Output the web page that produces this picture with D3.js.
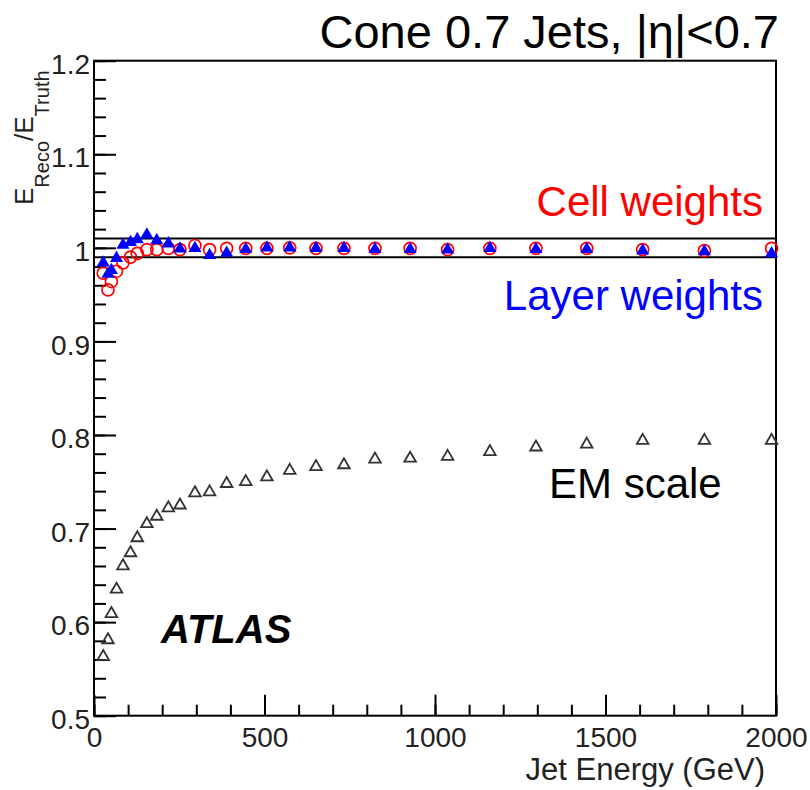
<!DOCTYPE html>
<html>
<head>
<meta charset="utf-8">
<script src="https://cdn.jsdelivr.net/npm/d3@7"></script>
<style>
  body { margin: 0; background: #fff; }
  svg { display: block; font-family: "Liberation Sans", Arial, Helvetica, sans-serif; }
</style>
</head>
<body>
<svg id="chart" width="810" height="790"></svg>
<script>
// jet energy bins (GeV), shared by all three series
const energy = [27, 41, 51, 66, 85, 107, 127, 155, 184, 218, 252, 296, 339, 389,
  445, 507, 574, 651, 733, 824, 927, 1037, 1161, 1296, 1445, 1609, 1790, 1987];

const cellWeights = [0.973, 0.955, 0.964, 0.975, 0.984, 0.990, 0.994, 0.998, 0.998, 0.9995,
  0.998, 1.0025, 0.998, 0.9995, 0.9995, 0.9995, 1.000, 0.9995, 0.9995, 0.9995,
  0.9995, 0.998, 0.9995, 0.9995, 0.9995, 0.998, 0.997, 0.9995];

const layerWeights = [0.984, 0.972, 0.976, 0.989, 1.003, 1.006, 1.009, 1.014, 1.008, 1.0045,
  0.999, 0.9995, 0.992, 0.9945, 0.9985, 1.000, 1.000, 0.9995, 0.9995, 0.9985,
  0.9985, 0.998, 0.9995, 0.9985, 0.9985, 0.997, 0.996, 0.994];

const emScale = [0.563, 0.581, 0.609, 0.635, 0.660, 0.674, 0.690, 0.705, 0.713, 0.722,
  0.725, 0.738, 0.739, 0.748, 0.750, 0.755, 0.762, 0.766, 0.768, 0.774,
  0.775, 0.777, 0.782, 0.787, 0.790, 0.794, 0.794, 0.794];

const xTicks = [0, 500, 1000, 1500, 2000];
const xTickLabels = ["0", "500", "1000", "1500", "2000"];
const yTicks = [0.5, 0.6, 0.7, 0.8, 0.9, 1.0, 1.1, 1.2];
const yTickLabels = ["0.5", "0.6", "0.7", "0.8", "0.9", "1", "1.1", "1.2"];
const bandLines = [0.99, 1.01];

const svg = d3.select("#chart");

const x = d3.scaleLinear().domain([0, 2000]).range([94, 776]);
const y = d3.scaleLinear().domain([0.5, 1.2]).range([715.7, 60.7]);

// minor ticks
const xMinor = d3.range(0, 2001, 100);
const yMinor = d3.range(0, 36).map(i => 0.5 + i * 0.02);

svg.append("g")
    .attr("transform", `translate(0,${y(0.5)})`)
    .call(d3.axisBottom(x).tickValues(xMinor).tickSizeInner(-11).tickSizeOuter(0).tickFormat(""))
    .call(g => g.select(".domain").remove());

svg.append("g")
    .attr("transform", `translate(${x(0)},0)`)
    .call(d3.axisLeft(y).tickValues(yMinor).tickSizeInner(-12).tickSizeOuter(0).tickFormat(""))
    .call(g => g.select(".domain").remove());

// major ticks + labels
svg.append("g")
    .attr("transform", `translate(0,${y(0.5)})`)
    .call(d3.axisBottom(x).tickValues(xTicks).tickSizeInner(-21).tickSizeOuter(0).tickPadding(11)
        .tickFormat((d, i) => xTickLabels[i]))
    .call(g => g.select(".domain").remove())
    .call(g => g.selectAll("text").attr("font-size", 28).attr("fill", "#222").attr("font-family", null));

svg.append("g")
    .attr("transform", `translate(${x(0)},0)`)
    .call(d3.axisLeft(y).tickValues(yTicks).tickSizeInner(-22).tickSizeOuter(0).tickPadding(4)
        .tickFormat((d, i) => yTickLabels[i]))
    .call(g => g.select(".domain").remove())
    .call(g => g.selectAll("text").attr("font-size", 28).attr("fill", "#222").attr("dy", "0.45em").attr("font-family", null));

svg.selectAll(".tick line").attr("stroke", "#000").attr("stroke-width", 2);

// frame
svg.append("rect")
    .attr("x", x(0)).attr("y", y(1.2))
    .attr("width", x(2000) - x(0)).attr("height", y(0.5) - y(1.2))
    .attr("fill", "none").attr("stroke", "#000").attr("stroke-width", 2);

// +-1% lines
svg.selectAll("line.band")
    .data(bandLines)
    .join("line")
    .attr("class", "band")
    .attr("x1", x(0)).attr("x2", x(2000))
    .attr("y1", d => y(d)).attr("y2", d => y(d))
    .attr("stroke", "#000").attr("stroke-width", 2);

const tri = d3.symbol(d3.symbolTriangle, 74);
const triOpen = d3.symbol(d3.symbolTriangle, 58);

// EM scale: open triangles
svg.append("g").selectAll("path")
    .data(energy.map((e, i) => [e, emScale[i]]))
    .join("path")
    .attr("d", triOpen)
    .attr("transform", d => `translate(${x(d[0])},${y(d[1])})`)
    .attr("fill", "none").attr("stroke", "#333").attr("stroke-width", 1.8);

// cell weights: open red circles
svg.append("g").selectAll("circle")
    .data(energy.map((e, i) => [e, cellWeights[i]]))
    .join("circle")
    .attr("cx", d => x(d[0])).attr("cy", d => y(d[1])).attr("r", 6)
    .attr("fill", "none").attr("stroke", "#ff0000").attr("stroke-width", 1.7);

// layer weights: filled blue triangles
svg.append("g").selectAll("path")
    .data(energy.map((e, i) => [e, layerWeights[i]]))
    .join("path")
    .attr("d", tri)
    .attr("transform", d => `translate(${x(d[0])},${y(d[1])})`)
    .attr("fill", "#0000ff");

// axis titles
svg.append("text")
    .attr("x", 765).attr("y", 780)
    .attr("text-anchor", "end")
    .attr("font-size", 31).attr("fill", "#222")
    .text("Jet Energy (GeV)");

const yt = svg.append("text")
    .attr("transform", "translate(33,205) rotate(-90)")
    .attr("font-size", 26).attr("fill", "#222");
yt.append("tspan").text("E");
yt.append("tspan").attr("font-size", 20).attr("dy", 16).text("Reco");
yt.append("tspan").attr("dy", -16).text("/E");
yt.append("tspan").attr("font-size", 20).attr("dy", 16).text("Truth");

// title and labels
svg.append("text")
    .attr("x", 779).attr("y", 48)
    .attr("text-anchor", "end")
    .attr("font-size", 47).attr("fill", "#000")
    .text("Cone 0.7 Jets, |η|<0.7");

svg.append("text")
    .attr("x", 763).attr("y", 216)
    .attr("text-anchor", "end")
    .attr("font-size", 42).attr("fill", "#ff0000")
    .text("Cell weights");

svg.append("text")
    .attr("x", 763).attr("y", 310)
    .attr("text-anchor", "end")
    .attr("font-size", 42).attr("fill", "#0000ff")
    .text("Layer weights");

svg.append("text")
    .attr("x", 549).attr("y", 498)
    .attr("font-size", 42).attr("fill", "#000")
    .text("EM scale");

svg.append("text")
    .attr("x", 161).attr("y", 643)
    .attr("font-size", 40).attr("font-weight", "bold").attr("font-style", "italic")
    .attr("fill", "#000")
    .text("ATLAS");
</script>
</body>
</html>
